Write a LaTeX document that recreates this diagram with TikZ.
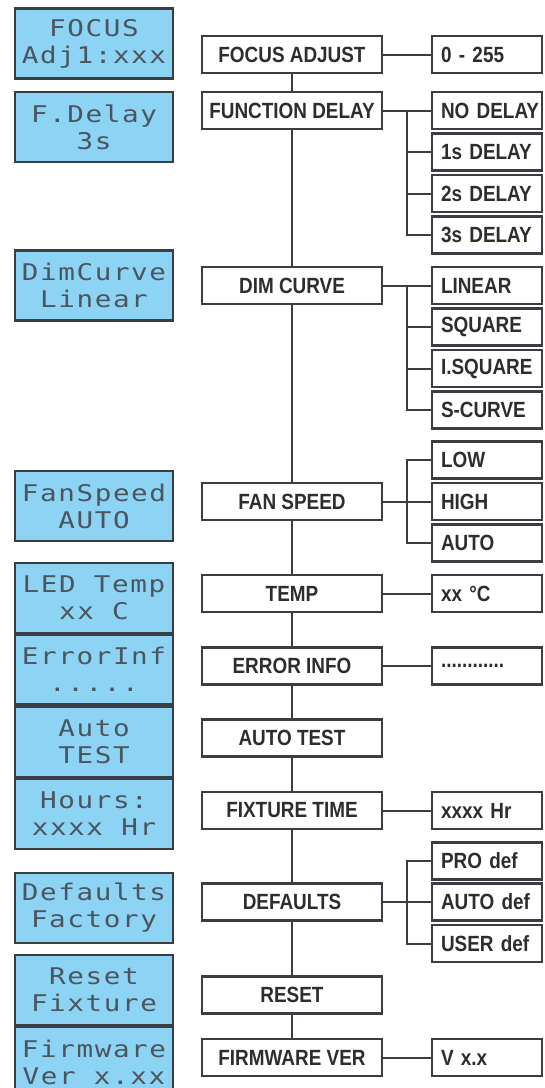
\documentclass[tikz,border=0pt]{standalone}
\usepackage{fontspec}
\usepackage{xcolor}
\usepackage{tikz}
\usetikzlibrary{positioning, calc}
\newfontfamily\boxfont[FakeStretch=0.86]{Liberation Sans}
\newfontfamily\lcdfont[FakeStretch=1.2, LetterSpace=7]{DejaVu Sans Mono}
\definecolor{lcdblue}{RGB}{141, 211, 244}
\definecolor{frame}{RGB}{58, 62, 66}
\definecolor{ink}{RGB}{45, 45, 45}
\definecolor{lcdink}{RGB}{75, 85, 95}
\newcommand\nohyph{\hyphenpenalty 10000 \exhyphenpenalty 10000 \uchyph 0 }

\tikzset{
  lcd/.style={draw=frame, line width=2.5pt, fill=lcdblue, minimum width=158pt, minimum height=70pt,
    inner sep=0pt, align=center, text=lcdink, font=\lcdfont\fontsize{23}{27}\selectfont},
  menu/.style={draw=frame, line width=2.3pt, fill=white, minimum width=180pt, minimum height=37pt,
    inner sep=0pt, text=ink, font=\boxfont\bfseries\fontsize{22}{24}\selectfont},
  opt/.style={draw=frame, line width=2.3pt, fill=white, text width=92pt, inner xsep=9pt, inner ysep=0pt,
    minimum height=37pt, align=left, text=ink, execute at begin node=\nohyph,
    font=\boxfont\bfseries\fontsize{22}{24}\selectfont},
  wire/.style={draw=frame, line width=2pt}
}

\begin{document}
\begin{tikzpicture}[x=1pt, y=-1pt]

  \useasboundingbox (0,0) rectangle (545,1088);

  % LCD screens
  \foreach \n/\y/\txt in {1/43.5/{FOCUS\\Adj1:xxx}, 2/127/{F.Delay\\3s}, 3/285.5/{DimCurve\\Linear},
      4/506/{FanSpeed\\AUTO}, 5/598/{LED Temp\\xx C}, 6/669.5/{ErrorInf\\.....}, 7/742/{Auto\\TEST},
      8/814/{Hours:\\xxxx Hr}, 9/908/{Defaults\\Factory}, 10/990/{Reset\\Fixture}, 11/1062/{Firmware\\Ver x.xx}} {
    \node[lcd] (lcd\n) at (94,\y) {\txt};
  }

  % Menu items
  \node[menu] (focus) at (292, 54.5) {FOCUS ADJUST};
  \node[menu] (fdelay) at (292, 110.5) {FUNCTION DELAY};
  \node[menu] (dim) at (292, 285.5) {DIM CURVE};
  \node[menu] (fan) at (292, 501.5) {FAN SPEED};
  \node[menu] (temp) at (292, 593.5) {TEMP};
  \node[menu] (err) at (292, 666) {ERROR INFO};
  \node[menu] (atest) at (292, 738) {AUTO TEST};
  \node[menu] (ftime) at (292, 810.5) {FIXTURE TIME};
  \node[menu] (defs) at (292, 902) {DEFAULTS};
  \node[menu] (reset) at (292, 995) {RESET};
  \node[menu] (fw) at (292, 1057.5) {FIRMWARE VER};

  % Values
  \node[opt] (range) at (487, 54.5) {0~-~255};
  \node[opt] (d0) at (487, 110.5) {NO~DELAY};
  \node[opt] (d1) at (487, 152) {1s~DELAY};
  \node[opt] (d2) at (487, 193.5) {2s~DELAY};
  \node[opt] (d3) at (487, 235) {3s~DELAY};
  \node[opt] (c0) at (487, 285.5) {LINEAR};
  \node[opt] (c1) at (487, 327) {SQUARE};
  \node[opt] (c2) at (487, 368.5) {I.SQUARE};
  \node[opt] (c3) at (487, 410) {S-CURVE};
  \node[opt] (s0) at (487, 460) {LOW};
  \node[opt] (s1) at (487, 501.5) {HIGH};
  \node[opt] (s2) at (487, 543) {AUTO};
  \node[opt] (deg) at (487, 593.5) {xx~\textdegree C};
  \node[opt] (info) at (487, 666) {............};
  \node[opt] (hrs) at (487, 810.5) {xxxx~Hr};
  \node[opt] (p0) at (487, 861) {PRO~def};
  \node[opt] (p1) at (487, 902) {AUTO~def};
  \node[opt] (p2) at (487, 943.5) {USER~def};
  \node[opt] (ver) at (487, 1057.5) {V~x.x};

  \coordinate (bx) at (407,0);

  % Main trunk
  \foreach \a/\b in {focus/fdelay, fdelay/dim, dim/fan, fan/temp, temp/err, err/atest, atest/ftime, ftime/defs, defs/reset, reset/fw} {
    \draw[wire] (\a.south) -- (\b.north);
  }

  % Single values
  \foreach \a/\b in {focus/range, temp/deg, err/info, ftime/hrs, fw/ver} {
    \draw[wire] (\a.east) -- (\b.west);
  }

  % Branches
  \draw[wire] (fdelay.east) -- (d0.west);
  \draw[wire] (d0.west) -| (bx |- d3.west) -- (d3.west);
  \draw[wire] (d1.west) -- (d1.west -| bx);
  \draw[wire] (d2.west) -- (d2.west -| bx);

  \draw[wire] (dim.east) -- (c0.west);
  \draw[wire] (c0.west) -| (bx |- c3.west) -- (c3.west);
  \draw[wire] (c1.west) -- (c1.west -| bx);
  \draw[wire] (c2.west) -- (c2.west -| bx);

  \draw[wire] (fan.east) -- (s1.west);
  \draw[wire] (s0.west) -| (bx |- s2.west) -- (s2.west);

  \draw[wire] (defs.east) -- (p1.west);
  \draw[wire] (p0.west) -| (bx |- p2.west) -- (p2.west);

\end{tikzpicture}
\end{document}
